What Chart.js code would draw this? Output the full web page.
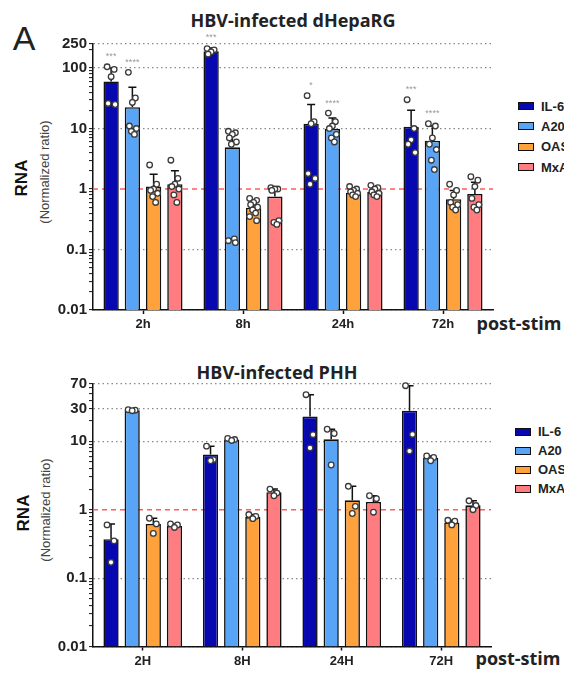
<!DOCTYPE html>
<html>
<head>
<meta charset="utf-8">
<script src="https://cdn.jsdelivr.net/npm/chart.js@4.4.1/dist/chart.umd.min.js"></script>
<style>
  html, body { margin: 0; padding: 0; background: #fff; overflow: hidden; width: 564px; height: 673px; }
  #wrap { position: relative; width: 564px; height: 673px; overflow: hidden; }
  canvas { position: absolute; left: 0; }
  .lbl { position: absolute; white-space: nowrap; transform: translate(-50%, -50%); color: #111; }
  .rot { transform: translate(-50%, -50%) rotate(-90deg); }
  .title { font: bold 18px "Open Sans", sans-serif; color: #222; }
  .stim { font: bold 18px "Open Sans", sans-serif; color: #222; }
  .rna { font: bold 17px "Liberation Sans", Arial, sans-serif; }
  .norm { font: 13px "Liberation Sans", Arial, sans-serif; color: #444; }
  .legend { position: absolute; left: 518px; font: bold 13px "Liberation Sans", Arial, sans-serif; color: #222; }
  .legend .row { display: flex; align-items: center; white-space: nowrap; }
  .legend .sw { width: 14px; height: 6px; border: 1.5px solid #111; margin-right: 7px; flex: none; }
</style>
</head>
<body>
<div id="wrap">
  <div class="lbl" style="left:24px; top:38px; font:34px 'Liberation Sans', Arial, sans-serif; color:#222;">A</div>

  <div class="lbl title" style="left:293px; top:20px;">HBV-infected dHepaRG</div>
  <div class="lbl rot rna" style="left:22px; top:178px;">RNA</div>
  <div class="lbl rot norm" style="left:44px; top:172px;">(Normalized ratio)</div>
  <div class="lbl stim" style="left:519px; top:323px;">post-stim</div>
  <div class="legend" id="legend1" style="top:96px;"></div>
  <canvas id="chart1" width="564" height="340" style="top:0px;"></canvas>

  <div class="lbl title" style="left:277px; top:372px;">HBV-infected PHH</div>
  <div class="lbl rot rna" style="left:24px; top:513px;">RNA</div>
  <div class="lbl rot norm" style="left:45px; top:510px;">(Normalized ratio)</div>
  <div class="lbl stim" style="left:518px; top:658px;">post-stim</div>
  <div class="legend" id="legend2" style="top:422px; left:515px;"></div>
  <canvas id="chart2" width="564" height="333" style="top:340px;"></canvas>
</div>

<script>
const genes = ["IL-6", "A20", "OAS1", "MxA"]
const colors = ["#0808b0", "#58a4f6", "#ffa23c", "#ff7d80"]

// HBV-infected dHepaRG (rows: IL-6, A20, OAS1, MxA)
const hepCats = ["2h", "8h", "24h", "72h"]
const hepMeans = [
  [60, 190, 12, 10.7],
  [22.6, 4.9, 9.9, 6.3],
  [1.1, 0.49, 0.87, 0.68],
  [1.2, 0.75, 0.89, 0.83]
]
const hepErr = [
  [100, 215, 25, 20],
  [48, 8.5, 15, 11],
  [1.75, 0.62, 1.0, 0.95],
  [2.0, 1.05, 1.05, 1.3]
]
const hepPts = [
  [[105, 95, 72, 26, 25], [210, 200, 185, 170], [35, 13, 12, 1.8, 1.5, 1.2], [30, 10, 6.5, 5.5, 4]],
  [[85, 32, 27, 11, 10, 9, 8], [9, 8.5, 8, 7, 6, 5.5, 0.15, 0.14, 0.13], [18, 13, 11, 10, 8, 7, 6], [12, 11, 7, 5.5, 4.5, 3, 2.1]],
  [[2.5, 1.2, 1.0, 0.95, 0.85, 0.75, 0.6], [0.7, 0.65, 0.6, 0.55, 0.5, 0.45, 0.4, 0.35, 0.3], [1.1, 1.0, 0.95, 0.9, 0.85, 0.8, 0.75], [1.2, 0.95, 0.8, 0.6, 0.55, 0.5, 0.45]],
  [[3, 1.5, 1.2, 1.1, 1.0, 0.8, 0.6], [1.05, 1.0, 1.0, 0.95, 0.3, 0.28, 0.26], [1.15, 1.05, 1.0, 0.9, 0.85, 0.8, 0.75], [1.6, 1.4, 1.1, 0.7, 0.55, 0.5, 0.45]]
]
const hepStars = [
  ["***", "***", "*", "***"],
  ["****", "", "****", "****"],
  ["", "", "", ""],
  ["", "", "", ""]
]
const hepMax = 250
const hepTickLabels = [0.01, 0.1, 1, 10, 100, 250]

// HBV-infected PHH
const phhCats = ["2H", "8H", "24H", "72H"]
const phhMeans = [
  [0.37, 6.4, 23, 28],
  [28.5, 10.6, 10.7, 5.75],
  [0.62, 0.78, 1.37, 0.65],
  [0.58, 1.8, 1.3, 1.16]
]
const phhErr = [
  [0.62, 8.5, 48, 65],
  [29.5, 11, 15, 6.1],
  [0.75, 0.85, 2.2, 0.7],
  [0.62, 2.0, 1.6, 1.35]
]
const phhPts = [
  [[0.6, 0.35, 0.17], [8.5, 5.4, 5.2], [48, 12.5, 8], [65, 12.6, 7.2]],
  [[29, 28.5, 28], [11, 10.6, 10.3], [15, 13, 4.5], [6.1, 5.8, 5.2]],
  [[0.75, 0.62, 0.45], [0.85, 0.8, 0.74], [2.2, 1.12, 0.88], [0.7, 0.68, 0.6]],
  [[0.62, 0.6, 0.55], [2.0, 1.75, 1.6], [1.6, 1.45, 0.92], [1.35, 1.15, 1.0]]
]
const phhStars = [
  ["", "", "", ""],
  ["", "", "", ""],
  ["", "", "", ""],
  ["", "", "", ""]
]
const phhMax = 70
const phhTickLabels = [0.01, 0.1, 1, 10, 30, 70]

const refLine = 1
const jitter = [-4, 3, 0, -3, 4, -1, 2, -4, 3]

function logTicks(max) {
  let list = []
  for (let d = 0.01; d < max; d *= 10) {
    for (let m = 1; m < 10; m++) {
      const v = +(d * m).toPrecision(3)
      if (v <= max) list.push(v)
    }
  }
  if (!list.includes(max)) list.push(max)
  return list
}

function buildLegend(id) {
  const box = document.getElementById(id)
  for (let i = 0; i < genes.length; i++) {
    const row = document.createElement("div")
    row.className = "row"
    row.style.height = id === "legend1" ? "20.3px" : "19px"
    const sw = document.createElement("span")
    sw.className = "sw"
    sw.style.background = colors[i]
    const txt = document.createElement("span")
    txt.textContent = genes[i]
    row.appendChild(sw)
    row.appendChild(txt)
    box.appendChild(row)
  }
}

const extras = {
  id: "extras",
  beforeDatasetsDraw(chart) {
    const { ctx, chartArea } = chart
    const y = chart.scales.y.getPixelForValue(refLine)
    ctx.save()
    ctx.strokeStyle = "#ff5c5c"
    ctx.lineWidth = 1.6
    ctx.setLineDash([5, 4])
    ctx.beginPath()
    ctx.moveTo(chartArea.left, y)
    ctx.lineTo(chartArea.right, y)
    ctx.stroke()
    ctx.restore()
  },
  afterDatasetsDraw(chart) {
    const ctx = chart.ctx
    const yScale = chart.scales.y
    chart.data.datasets.forEach((ds, i) => {
      const meta = chart.getDatasetMeta(i)
      meta.data.forEach((bar, j) => {
        ctx.save()
        // error bar (upper SD only)
        if (ds.err[j] > ds.data[j]) {
          const top = yScale.getPixelForValue(ds.err[j])
          ctx.strokeStyle = "#111"
          ctx.lineWidth = 1.5
          ctx.beginPath()
          ctx.moveTo(bar.x, bar.y)
          ctx.lineTo(bar.x, top)
          ctx.moveTo(bar.x - 4, top)
          ctx.lineTo(bar.x + 4, top)
          ctx.stroke()
        }
        // individual replicates
        ds.pts[j].forEach((v, k) => {
          const px = bar.x + jitter[k % jitter.length]
          const py = yScale.getPixelForValue(v)
          ctx.beginPath()
          ctx.arc(px, py, 2.8, 0, Math.PI * 2)
          ctx.fillStyle = "#fff"
          ctx.fill()
          ctx.strokeStyle = "#3a3a3a"
          ctx.lineWidth = 1.3
          ctx.stroke()
        })
        // significance stars
        if (ds.stars[j]) {
          const high = Math.max(ds.err[j], ...ds.pts[j])
          ctx.fillStyle = "#999"
          ctx.font = '9px "Liberation Sans", Arial, sans-serif'
          ctx.textAlign = "center"
          ctx.textBaseline = "middle"
          ctx.fillText(ds.stars[j], bar.x, yScale.getPixelForValue(high) - 10)
        }
        ctx.restore()
      })
    })
  }
}

function makePanel(canvasId, cats, means, err, pts, stars, yMax, tickLabels, pad, xHeight) {
  const datasets = genes.map((g, i) => ({
    label: g,
    data: means[i],
    err: err[i],
    pts: pts[i],
    stars: stars[i],
    backgroundColor: colors[i],
    borderColor: "#111",
    borderWidth: 1.6,
    categoryPercentage: 0.85,
    barPercentage: 0.72
  }))

  new Chart(document.getElementById(canvasId), {
    type: "bar",
    data: { labels: cats, datasets: datasets },
    options: {
      responsive: false,
      animation: false,
      layout: { padding: pad },
      plugins: { legend: { display: false }, tooltip: { enabled: false } },
      scales: {
        x: {
          grid: { offset: false, drawOnChartArea: false, tickLength: 4, tickColor: "#111", tickWidth: 1.5 },
          border: { color: "#111", width: 1.5 },
          ticks: { color: "#222", padding: 3, font: { family: "Liberation Sans", size: 13, weight: "bold" } },
          afterFit: (scale) => { scale.height = xHeight }
        },
        y: {
          type: "logarithmic",
          min: 0.01,
          max: yMax,
          afterBuildTicks: (scale) => { scale.ticks = logTicks(yMax).map((v) => ({ value: v })) },
          afterFit: (scale) => { scale.width = 93 },
          grid: {
            color: (c) => (c.tick && tickLabels.includes(c.tick.value) && c.tick.value !== refLine ? "#8a8a8a" : "transparent"),
            lineWidth: 1.2,
            tickColor: "#111",
            tickLength: 4,
            tickWidth: 1
          },
          border: { color: "#111", width: 1.5, dash: [1.5, 3] },
          ticks: {
            autoSkip: false,
            color: "#222",
            padding: 2,
            font: { family: "Liberation Sans", size: 15, weight: "bold" },
            callback: (value) => (tickLabels.includes(value) ? String(value) : "")
          }
        }
      }
    },
    plugins: [extras]
  })
}

buildLegend("legend1")
buildLegend("legend2")

makePanel("chart1", hepCats, hepMeans, hepErr, hepPts, hepStars, hepMax, hepTickLabels,
  { top: 44, right: 71, left: 0, bottom: 0 }, 30)
makePanel("chart2", phhCats, phhMeans, phhErr, phhPts, phhStars, phhMax, phhTickLabels,
  { top: 43.5, right: 73, left: 0, bottom: 0 }, 26.5)
</script>
</body>
</html>
